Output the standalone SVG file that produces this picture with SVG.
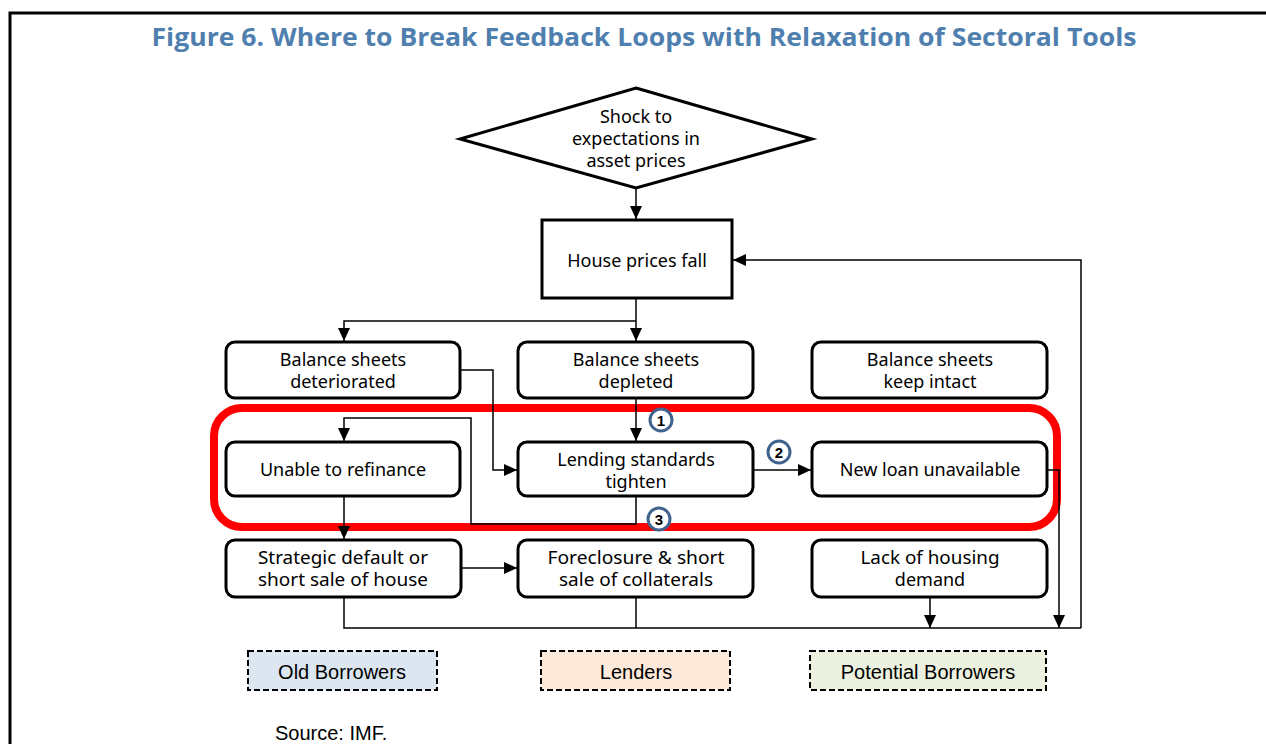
<svg xmlns="http://www.w3.org/2000/svg" width="1266" height="744" viewBox="0 0 1266 744">
<defs>
<style>
.t{font-family:"Noto Sans","Open Sans",sans-serif;font-size:18px;fill:#000;text-anchor:middle}
.c{font-family:"Noto Sans","Open Sans",sans-serif;font-size:18px;fill:#000;text-anchor:middle}
.box{fill:#fff;stroke:#000;stroke-width:3}
.ln{fill:none;stroke:#000;stroke-width:1.5}
.badge{fill:#fff;stroke:#41648f;stroke-width:3}
.bt{font-family:"Liberation Sans",Arial,sans-serif;font-size:15px;font-weight:bold;text-anchor:middle;fill:#000}
.leg{stroke:#000;stroke-width:2;stroke-dasharray:6,3}
.lt{font-family:"Liberation Sans",Arial,sans-serif;font-size:20px;text-anchor:middle;fill:#000}
</style>
<marker id="ar" markerUnits="userSpaceOnUse" markerWidth="14" markerHeight="14" viewBox="0 0 14 14" refX="13" refY="7" orient="auto">
<path d="M0,1 L13,7 L0,13 Z" fill="#000"/>
</marker>
</defs>
<rect x="0" y="0" width="1266" height="744" fill="#fff"/>
<path d="M10,760 L10,13 L1280,13" fill="none" stroke="#000" stroke-width="3"/>
<text x="644" y="46" font-family="Open Sans,Noto Sans,sans-serif" font-size="25" font-weight="bold" fill="#4f7fae" text-anchor="middle" textLength="985" lengthAdjust="spacingAndGlyphs">Figure 6. Where to Break Feedback Loops with Relaxation of Sectoral Tools</text>

<rect x="214" y="408" width="843" height="119" rx="28" fill="none" stroke="#ff0000" stroke-width="8"/>

<g id="connectors">
<path class="ln" d="M636,188 L636,219" marker-end="url(#ar)"/>
<path class="ln" d="M1081,628 L1081,260 L733,260" marker-end="url(#ar)"/>
<path class="ln" d="M636,298 L636,341" marker-end="url(#ar)"/>
<path class="ln" d="M636,321 L344,321 L344,341" marker-end="url(#ar)"/>
<path class="ln" d="M460,370 L493,370 L493,470 L517,470" marker-end="url(#ar)"/>
<path class="ln" d="M636,398 L636,441" marker-end="url(#ar)"/>
<path class="ln" d="M753,470 L811,470" marker-end="url(#ar)"/>
<path class="ln" d="M636,496 L636,524 L471,524 L471,418 L344,418 L344,441" marker-end="url(#ar)"/>
<path class="ln" d="M344,496 L344,539" marker-end="url(#ar)"/>
<path class="ln" d="M1047,470 L1059,470 L1059,628" marker-end="url(#ar)"/>
<path class="ln" d="M461,568 L517,568" marker-end="url(#ar)"/>
<path class="ln" d="M344,597 L344,628 L1081,628"/>
<path class="ln" d="M636,597 L636,628"/>
<path class="ln" d="M930,597 L930,628" marker-end="url(#ar)"/>
</g>

<g id="shock">
<polygon points="636,88 812,139 636,188 460,139" class="box"/>
<text class="t" x="636" y="123">Shock to</text>
<text class="t" x="636" y="145">expectations in</text>
<text class="t" x="636" y="167">asset prices</text>
</g>
<g id="house">
<rect x="542" y="220" width="190" height="78" class="box" stroke-width="3.5"/>
<text class="t" x="637" y="267">House prices fall</text>
</g>
<g id="bs-det">
<rect x="226" y="342" width="234" height="56" rx="9" class="box"/>
<text class="t" x="343" y="366">Balance sheets</text>
<text class="t" x="343" y="388">deteriorated</text>
</g>
<g id="bs-dep">
<rect x="518" y="342" width="235" height="56" rx="9" class="box"/>
<text class="t" x="636" y="366">Balance sheets</text>
<text class="t" x="636" y="388">depleted</text>
</g>
<g id="bs-int">
<rect x="812" y="342" width="235" height="56" rx="9" class="box"/>
<text class="t" x="930" y="366">Balance sheets</text>
<text class="t" x="930" y="388">keep intact</text>
</g>
<g id="refinance">
<rect x="226" y="442" width="234" height="54" rx="9" class="box"/>
<text class="t" x="343" y="476">Unable to refinance</text>
</g>
<g id="lending">
<rect x="518" y="442" width="235" height="54" rx="9" class="box"/>
<text class="t" x="636" y="466">Lending standards</text>
<text class="t" x="636" y="488">tighten</text>
</g>
<g id="newloan">
<rect x="812" y="442" width="235" height="54" rx="9" class="box"/>
<text class="t" x="930" y="476">New loan unavailable</text>
</g>
<g id="strategic">
<rect x="226" y="540" width="235" height="57" rx="9" class="box"/>
<text class="c" x="343" y="564" textLength="170" lengthAdjust="spacingAndGlyphs">Strategic default  or</text>
<text class="c" x="343" y="586" textLength="170" lengthAdjust="spacingAndGlyphs">short sale of house</text>
</g>
<g id="foreclosure">
<rect x="518" y="540" width="235" height="57" rx="9" class="box"/>
<text class="c" x="636" y="564" textLength="177" lengthAdjust="spacingAndGlyphs">Foreclosure &amp; short</text>
<text class="c" x="636" y="586" textLength="154" lengthAdjust="spacingAndGlyphs">sale of collaterals</text>
</g>
<g id="lack">
<rect x="812" y="540" width="235" height="57" rx="9" class="box"/>
<text class="c" x="930" y="564" textLength="139" lengthAdjust="spacingAndGlyphs">Lack of housing</text>
<text class="c" x="930" y="586">demand</text>
</g>
<g id="badge1">
<circle cx="661" cy="420" r="11" class="badge"/>
<text class="bt" x="661" y="425.5">1</text>
</g>
<g id="badge2">
<circle cx="779" cy="452" r="11" class="badge"/>
<text class="bt" x="779" y="457.5">2</text>
</g>
<g id="badge3">
<circle cx="659" cy="519" r="11" class="badge"/>
<text class="bt" x="659" y="524.5">3</text>
</g>
<g id="legend-old">
<rect x="248" y="651" width="189" height="39" fill="#dce6f1" class="leg"/>
<text class="lt" x="342" y="679">Old Borrowers</text>
</g>
<g id="legend-lenders">
<rect x="541" y="651" width="189" height="39" fill="#fde9d9" class="leg"/>
<text class="lt" x="636" y="679">Lenders</text>
</g>
<g id="legend-potential">
<rect x="810" y="651" width="236" height="39" fill="#ebf1de" class="leg"/>
<text class="lt" x="928" y="679">Potential Borrowers</text>
</g>
<text x="275" y="740" font-family="Liberation Sans,Arial,sans-serif" font-size="20" fill="#000">Source: IMF.</text>
</svg>
